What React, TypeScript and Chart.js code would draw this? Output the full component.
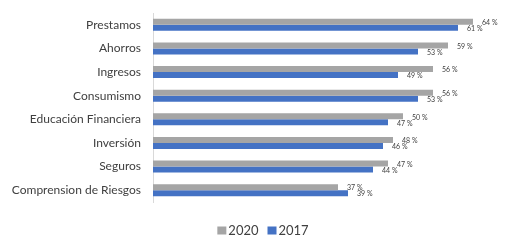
import React, { useEffect, useRef } from "react";
import { Chart, registerables } from "chart.js";

Chart.register(...registerables);

const categories = [
  "Prestamos",
  "Ahorros",
  "Ingresos",
  "Consumismo",
  "Educación Financiera",
  "Inversión",
  "Seguros",
  "Comprension de Riesgos",
];
const values2020 = [64, 59, 56, 56, 50, 48, 47, 37];
const values2017 = [61, 53, 49, 53, 47, 46, 44, 39];
const seriesNames = ["2020", "2017"];
const seriesColors = ["#A5A5A5", "#4472C4"];

const FONT = "Lato, 'Open Sans', sans-serif";

const labelPlugin = {
  id: "barValueLabels",
  afterDatasetsDraw(chart: any) {
    const ctx = chart.ctx;
    ctx.save();
    ctx.font = `7px ${FONT}`;
    ctx.fillStyle = "#404040";
    ctx.textAlign = "left";
    ctx.textBaseline = "middle";
    chart.data.datasets.forEach((ds: any, di: number) => {
      const meta = chart.getDatasetMeta(di);
      meta.data.forEach((el: any, i: number) => {
        ctx.fillText(`${ds.data[i]} %`, el.x + 9, el.y + 1);
      });
    });
    ctx.restore();
  },
};

const legendPlugin = {
  id: "customLegend",
  afterDraw(chart: any) {
    const ctx = chart.ctx;
    ctx.save();
    ctx.font = `13px ${FONT}`;
    ctx.textBaseline = "middle";
    ctx.textAlign = "left";
    const box = 9;
    const gapBoxText = 2;
    const gapItems = 9;
    const widths = chart.data.datasets.map(
      (ds: any) => box + gapBoxText + ctx.measureText(ds.label).width
    );
    const total = widths.reduce((a: number, b: number) => a + b, 0) + gapItems * (widths.length - 1);
    const centerX = 263;
    const y = 230.5;
    let x = centerX - total / 2;
    chart.data.datasets.forEach((ds: any, i: number) => {
      ctx.fillStyle = ds.backgroundColor;
      ctx.fillRect(x, y - 4, box, 8);
      ctx.fillStyle = "#404040";
      ctx.fillText(ds.label, x + box + gapBoxText, y);
      x += widths[i] + gapItems;
    });
    ctx.restore();
  },
};

export default function App() {
  const ref = useRef<HTMLCanvasElement>(null);
  useEffect(() => {
    const chart = new Chart(ref.current!, {
      type: "bar",
      data: {
        labels: categories,
        datasets: [
          {
            label: seriesNames[0],
            data: values2020,
            backgroundColor: seriesColors[0],
            barPercentage: 1,
            categoryPercentage: 0.51,
          },
          {
            label: seriesNames[1],
            data: values2017,
            backgroundColor: seriesColors[1],
            barPercentage: 1,
            categoryPercentage: 0.51,
          },
        ],
      },
      options: {
        indexAxis: "y",
        animation: false,
        responsive: false,
        maintainAspectRatio: false,
        layout: { padding: { top: 13, left: 0, right: 4, bottom: 38 } },
        scales: {
          x: { display: false, min: 0, max: 70 },
          y: {
            grid: { display: false, drawTicks: false },
            border: { display: true, color: "#D9D9D9", width: 1 },
            ticks: {
              padding: 12,
              color: "#404040",
              font: { family: FONT, size: 12 },
            },
            afterFit(scale: any) {
              scale.width = 153;
              scale.paddingTop = 0;
              scale.paddingBottom = 0;
            },
          },
        },
        plugins: {
          legend: { display: false },
          tooltip: { enabled: false },
        },
      },
      plugins: [labelPlugin, legendPlugin],
    });
    return () => chart.destroy();
  }, []);
  return (
    <div style={{ position: "fixed", left: 0, top: 0, width: 507, height: 240, background: "#fff" }}>
      <canvas ref={ref} width={507} height={240} style={{ width: 507, height: 240 }} />
    </div>
  );
}
